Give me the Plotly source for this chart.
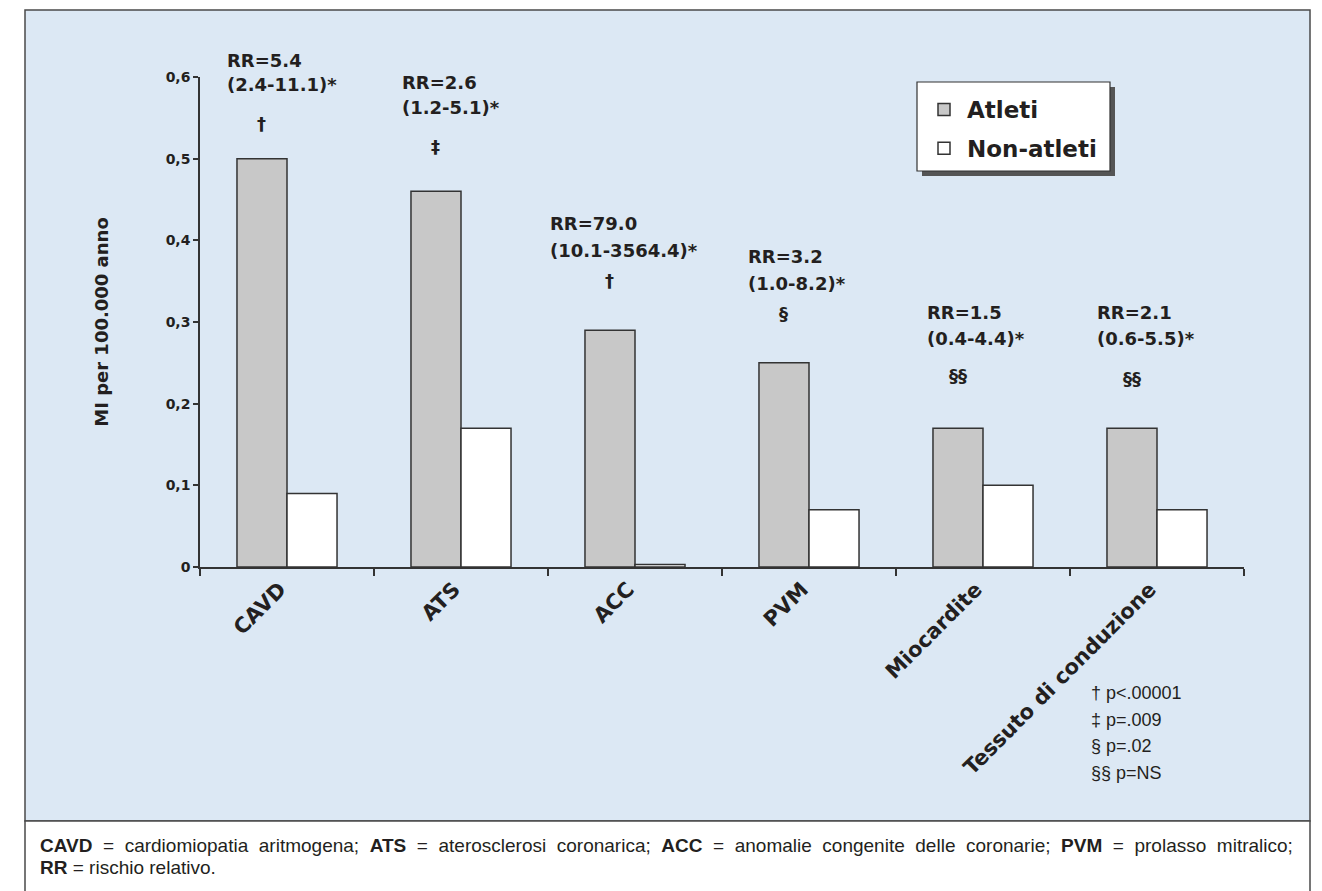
import plotly.graph_objects as go

# ---------------- data ----------------
categories = ["CAVD", "ATS", "ACC", "PVM", "Miocardite", "Tessuto di conduzione"]
atleti = [0.50, 0.46, 0.29, 0.25, 0.17, 0.17]
non_atleti = [0.09, 0.17, 0.003, 0.07, 0.10, 0.07]
rr_text = ["RR=5.4", "RR=2.6", "RR=79.0", "RR=3.2", "RR=1.5", "RR=2.1"]
ci_text = ["(2.4-11.1)*", "(1.2-5.1)*", "(10.1-3564.4)*", "(1.0-8.2)*", "(0.4-4.4)*", "(0.6-5.5)*"]
sig_text = ["\u2020", "\u2021", "\u2020", "\u00a7", "\u00a7\u00a7", "\u00a7\u00a7"]
y_ticks = [0, 0.1, 0.2, 0.3, 0.4, 0.5, 0.6]
y_ticklabels = ["0", "0,1", "0,2", "0,3", "0,4", "0,5", "0,6"]
pvalue_lines = ["\u2020 p<.00001", "\u2021 p=.009", "\u00a7 p=.02", "\u00a7\u00a7 p=NS"]
footnote_line1 = [("CAVD", "cardiomiopatia aritmogena;"), ("ATS", "aterosclerosi coronarica;"),
                  ("ACC", "anomalie congenite delle coronarie;"), ("PVM", "prolasso mitralico;")]
footnote_line2 = [("RR", "rischio relativo.")]

# ---------------- layout helpers (page pixel coordinates) ----------------
OFF = 8                      # default body margin of the html page
W, H = 1306, 883             # figure size (fits in the 1322x891 window)
PLOT_L, PLOT_R, PLOT_T, PLOT_B = 200, 1244, 77, 567   # plot area in page pixels
ML = PLOT_L - OFF
MR = W - (PLOT_R - OFF)
MT = PLOT_T - OFF
MB = H - (PLOT_B - OFF)
PW, PH = PLOT_R - PLOT_L, PLOT_B - PLOT_T
BOLD = "DejaVu Sans"
REG = "Liberation Sans"
TXT = "#231f20"
BLUE = "#dce8f4"


def px(xp):
    return (xp - PLOT_L) / PW


def py(yp):
    return (PLOT_B - yp) / PH


# annotation pixel positions (layout only)
rr_left_px = [225, 400, 548, 746, 925, 1095]
rr_line1_px = [60, 82, 223, 257, 312, 312]
rr_line2_px = [85, 108, 250, 283, 338, 338]
sig_px = [123, 146, 280, 313, 375, 378]
bargap = 0.425

fig = go.Figure()
fig.add_trace(go.Bar(
    x=categories, y=atleti, name="Atleti", legendgroup="a",
    marker=dict(color="#c8c8c8", line=dict(color="#333333", width=1.5)),
))
fig.add_trace(go.Bar(
    x=categories, y=non_atleti, name="Non-atleti", legendgroup="b",
    marker=dict(color="#ffffff", line=dict(color="#333333", width=1.5)),
))

LEG_L, LEG_R, LEG_T, LEG_B = 917, 1110, 82, 171
shapes = [
    # light blue panel
    dict(type="rect", xref="paper", yref="paper", x0=px(25), x1=px(1310), y0=py(821), y1=py(10),
         fillcolor=BLUE, line=dict(color="#4a4a4a", width=1.5), layer="below"),
    # footnote box
    dict(type="rect", xref="paper", yref="paper", x0=px(25), x1=px(1310), y0=py(900), y1=py(821),
         fillcolor="#ffffff", line=dict(color="#4a4a4a", width=1.5), layer="below"),
    # legend shadow and frame
    dict(type="rect", xref="paper", yref="paper", x0=px(LEG_L + 5), x1=px(LEG_R + 5),
         y0=py(LEG_B + 5), y1=py(LEG_T + 5),
         fillcolor="#555555", line=dict(width=0), layer="below"),
    dict(type="rect", xref="paper", yref="paper", x0=px(LEG_L), x1=px(LEG_R),
         y0=py(LEG_B), y1=py(LEG_T),
         fillcolor="#ffffff", line=dict(color="#333333", width=1.2), layer="below"),
]

annotations = []
group_w = 1 - bargap
for i in range(len(categories)):
    annotations.append(dict(xref="paper", yref="paper", x=px(rr_left_px[i]), y=py(rr_line1_px[i]),
                            text=rr_text[i], showarrow=False, xanchor="left", yanchor="middle",
                            font=dict(family=BOLD, size=18, color=TXT, weight="bold")))
    annotations.append(dict(xref="paper", yref="paper", x=px(rr_left_px[i]), y=py(rr_line2_px[i]),
                            text=ci_text[i], showarrow=False, xanchor="left", yanchor="middle",
                            font=dict(family=BOLD, size=18, color=TXT, weight="bold")))
    annotations.append(dict(xref="x", yref="paper", x=i - group_w / 4, y=py(sig_px[i]),
                            text=sig_text[i], showarrow=False, xanchor="center", yanchor="middle",
                            font=dict(family=BOLD, size=18, color=TXT, weight="bold")))

for k, line in enumerate(pvalue_lines):
    annotations.append(dict(xref="paper", yref="paper", x=px(1089), y=py(693 + 26.7 * k),
                            text=line, showarrow=False, xanchor="left", yanchor="middle",
                            font=dict(family=REG, size=18, color=TXT)))

SP = "\u00a0 "   # widened (justified-looking) word space
line1 = SP.join(f"<b>{a}</b>{SP}={SP}{b.replace(' ', SP)}" for a, b in footnote_line1)
line2 = " ".join(f"<b>{a}</b> = {b}" for a, b in footnote_line2)
annotations.append(dict(xref="paper", yref="paper", x=px(38), y=py(845), xanchor="left",
                        yanchor="middle", showarrow=False, text=line1,
                        font=dict(family=REG, size=19, color=TXT)))
annotations.append(dict(xref="paper", yref="paper", x=px(38), y=py(867), xanchor="left",
                        yanchor="middle", showarrow=False, text=line2,
                        font=dict(family=REG, size=19, color=TXT)))

fig.update_layout(
    width=W, height=H,
    margin=dict(l=ML, r=MR, t=MT, b=MB, autoexpand=False),
    paper_bgcolor="#ffffff", plot_bgcolor="rgba(0,0,0,0)",
    barmode="group", bargap=bargap, bargroupgap=0,
    showlegend=True,
    legend=dict(x=px(LEG_L + 4), y=py(LEG_T + 6), xanchor="left", yanchor="top",
                bgcolor="rgba(0,0,0,0)", borderwidth=0,
                font=dict(family=BOLD, size=23, color=TXT, weight="bold"),
                traceorder="grouped", tracegroupgap=6, itemwidth=36),
    shapes=shapes, annotations=annotations,
    xaxis=dict(type="category", tickson="boundaries", ticks="outside", ticklen=7, tickwidth=1.5,
               tickcolor="#333333", showline=True, linecolor="#333333", linewidth=1.5,
               showgrid=False, zeroline=False, tickangle=-45, automargin=False,
               ticklabelshift=-7,
               tickfont=dict(family=BOLD, size=21, color=TXT, weight="bold")),
    yaxis=dict(range=[0, 0.6], tickvals=y_ticks, ticktext=y_ticklabels, ticks="outside", ticklen=5,
               tickwidth=1.5, tickcolor="#333333", showline=True, linecolor="#333333", linewidth=1.5,
               showgrid=False, zeroline=False, automargin=False,
               tickfont=dict(family=BOLD, size=14, color=TXT, weight="bold"),
               title=dict(text="MI per 100.000 anno", standoff=52,
                          font=dict(family=BOLD, size=18, color=TXT, weight="bold"))),
)

fig.write_html("out.html")
